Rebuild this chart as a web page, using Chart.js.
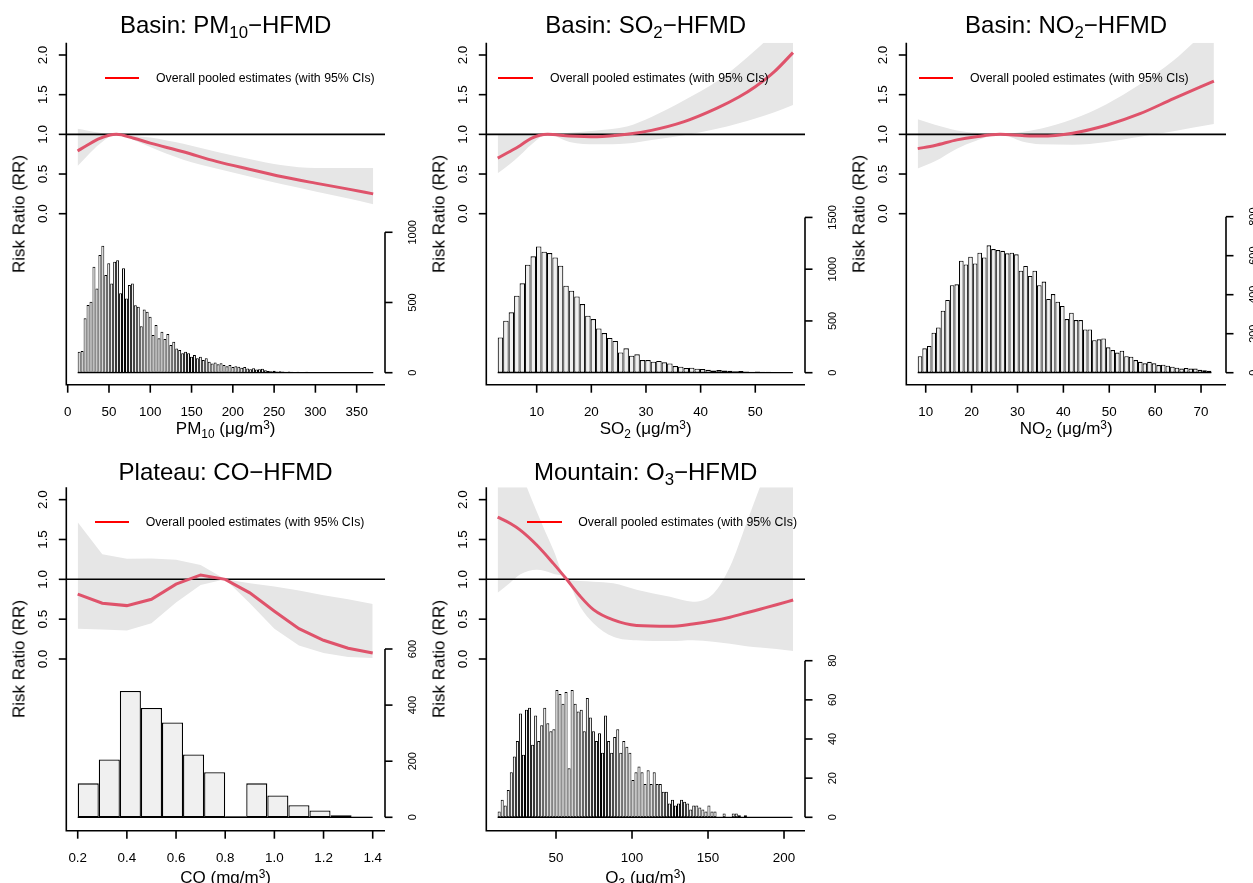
<!DOCTYPE html>
<html>
<head>
<meta charset="utf-8">
<script src="https://cdn.jsdelivr.net/npm/chart.js@4.4.0/dist/chart.umd.min.js"></script>
<style>
  html, body { margin: 0; padding: 0; background: #fff; }
  #page { position: relative; width: 1253px; height: 883px; overflow: hidden;
          font-family: "Liberation Sans", Arial, Helvetica, sans-serif; color: #000; }
  .txt { position: absolute; white-space: nowrap; line-height: 1; transform: translate(-50%, -50%); }
  .ttl { font-size: 24px; }
  .xl  { font-size: 17px; }
  .yl  { font-size: 17px; transform: translate(-50%, -50%) rotate(-90deg); }
  .sb  { font-size: 0.7em; position: relative; top: 0.3em; }
  .sp  { font-size: 0.7em; position: relative; top: -0.45em; }
  .leg { position: absolute; font-size: 12.3px; line-height: 1; white-space: nowrap; transform: translateY(-50%); }
  .legline { position: absolute; height: 2px; background: #ff0000; transform: translateY(-50%); }
</style>
</head>
<body>
<div id="page"></div>
<script>
'use strict';

// ---- RR axis (all panels)
const rrTicks = [0, 0.5, 1, 1.5, 2];

// ---- Basin: PM10
const pm10X  = [12, 23, 39, 59, 80, 100, 140, 180, 220, 260, 300, 340, 370];
const pm10RR = [0.79, 0.86, 0.95, 1.0, 0.95, 0.89, 0.78, 0.66, 0.56, 0.465, 0.385, 0.31, 0.25];
const pm10Lo = [0.60, 0.72, 0.88, 1.0, 0.93, 0.84, 0.68, 0.57, 0.47, 0.37, 0.28, 0.19, 0.12];
const pm10Hi = [1.07, 1.05, 1.02, 1.0, 0.98, 0.96, 0.88, 0.78, 0.69, 0.61, 0.575, 0.575, 0.575];
const pm10HistStart = 12.1, pm10HistWidth = 3.58;
const pm10Counts = [
  150, 154, 387, 482, 506, 755, 600, 838, 904, 696,
  779, 636, 790, 800, 565, 743, 529, 624, 636, 480,
  470, 330, 450, 434, 399, 268, 339, 245, 292, 240,
  275, 197, 220, 173, 161, 138, 150, 138, 114, 126,
  102, 114, 90, 102, 78, 66, 73, 60, 68, 55,
  45, 55, 40, 45, 42, 35, 40, 30, 25, 32,
  22, 25, 28, 18, 12, 10, 14, 9, 10, 8,
  7, 9, 6, 5, 7, 5, 4, 6, 4, 3,
  4, 3, 3, 2, 3, 2, 2, 3, 1, 2,
  2, 1, 1, 2, 1, 1, 1, 1, 0, 1
];
const pm10Ticks = [0, 50, 100, 150, 200, 250, 300, 350];
const pm10CountTicks = [0, 500, 1000];

// ---- Basin: SO2
const so2X  = [2.87, 5, 7, 9, 12, 16, 21, 26.5, 31, 37, 43, 47, 50, 53.5, 56.9];
const so2RR = [0.70, 0.78, 0.86, 0.95, 1.0, 0.98, 0.97, 1.0, 1.05, 1.16, 1.33, 1.47, 1.60, 1.79, 2.03];
const so2Lo = [0.51, 0.62, 0.74, 0.87, 1.0, 0.905, 0.876, 0.885, 0.93, 0.99, 1.07, 1.14, 1.20, 1.28, 1.37];
const so2Hi = [0.99, 0.995, 1.0, 1.0, 1.0, 1.02, 1.05, 1.10, 1.22, 1.43, 1.67, 1.88, 2.06, 2.28, 2.5];
const so2HistStart = 2.87, so2HistWidth = 1.0;
const so2Counts = [
  341, 502, 583, 744, 863, 1043, 1124, 1220, 1169, 1156,
  1114, 1034, 840, 792, 737, 663, 551, 518, 428, 383,
  335, 306, 196, 235, 164, 177, 122, 122, 106, 113,
  100, 90, 64, 58, 45, 48, 38, 35, 28, 22,
  25, 20, 18, 14, 16, 12, 10, 11, 8, 9,
  7, 6, 5, 6
];
const so2Ticks = [10, 20, 30, 40, 50];
const so2CountTicks = [0, 500, 1000, 1500];

// ---- Basin: NO2
const no2X  = [8.26, 12, 16.8, 21, 26.2, 31, 35, 42, 49.4, 56.7, 64, 72.8];
const no2RR = [0.82, 0.86, 0.93, 0.97, 1.0, 0.985, 0.978, 1.015, 1.115, 1.26, 1.45, 1.67];
const no2Lo = [0.57, 0.66, 0.82, 0.92, 1.0, 0.91, 0.875, 0.87, 0.905, 0.97, 1.04, 1.13];
const no2Hi = [1.19, 1.12, 1.05, 1.02, 1.0, 1.03, 1.07, 1.19, 1.38, 1.63, 1.93, 2.4];
const no2HistStart = 8.26, no2HistWidth = 1.0;
const no2Counts = [
  85, 125, 137, 205, 232, 318, 373, 449, 453, 574,
  555, 595, 560, 615, 591, 653, 634, 629, 625, 612,
  615, 607, 523, 547, 496, 523, 449, 467, 378, 403,
  364, 342, 275, 308, 270, 270, 222, 222, 167, 171,
  176, 130, 116, 103, 113, 85, 82, 65, 56, 48,
  56, 48, 39, 41, 36, 31, 26, 21, 24, 21,
  21, 15, 12, 10
];
const no2Ticks = [10, 20, 30, 40, 50, 60, 70];
const no2CountTicks = [0, 200, 400, 600, 800];

// ---- Plateau: CO
const coX  = [0.2, 0.3, 0.4, 0.5, 0.6, 0.7, 0.8, 0.9, 1.0, 1.1, 1.2, 1.3, 1.4];
const coRR = [0.815, 0.70, 0.67, 0.75, 0.94, 1.055, 1.0, 0.83, 0.60, 0.38, 0.235, 0.135, 0.076];
const coLo = [0.38, 0.37, 0.357, 0.45, 0.71, 0.93, 1.0, 0.70, 0.38, 0.17, 0.076, 0.025, 0.013];
const coHi = [1.715, 1.316, 1.257, 1.26, 1.245, 1.18, 1.0, 0.95, 0.91, 0.86, 0.80, 0.75, 0.69];
const coHistStart = 0.2, coHistWidth = 0.0857;
const coCounts = [121, 206, 450, 390, 338, 224, 161, 4, 121, 78, 43, 24, 7, 2];
const coTicks = [0.2, 0.4, 0.6, 0.8, 1.0, 1.2, 1.4];
const coCountTicks = [0, 200, 400, 600];

// ---- Mountain: O3
const o3X  = [11.6, 20, 26.3, 37.3, 48.2, 57, 65.8, 74.6, 87.7, 103, 125, 140, 153.5, 164.5, 175.4, 184.2, 195, 206];
const o3RR = [1.78, 1.70, 1.62, 1.43, 1.20, 1.0, 0.79, 0.62, 0.49, 0.42, 0.41, 0.44, 0.48, 0.525, 0.58, 0.625, 0.68, 0.74];
const o3Lo = [0.83, 0.96, 1.06, 1.12, 1.07, 1.0, 0.66, 0.45, 0.28, 0.235, 0.225, 0.235, 0.215, 0.19, 0.16, 0.145, 0.125, 0.10];
const o3Hi = [3.0, 2.66, 2.37, 1.85, 1.37, 1.0, 0.98, 0.97, 0.95, 0.87, 0.78, 0.72, 0.82, 1.16, 1.71, 2.16, 2.7, 3.2];
const o3HistStart = 11.6, o3HistWidth = 2.0;
const o3Counts = [
  3, 9, 6, 14, 23, 31, 39, 53, 32, 55,
  56, 37, 52, 39, 47, 56, 48, 44, 45, 65,
  63, 58, 64, 25, 65, 58, 54, 55, 44, 61,
  51, 44, 39, 43, 33, 52, 39, 33, 41, 45,
  33, 39, 36, 33, 19, 23, 26, 23, 17, 24,
  17, 23, 17, 17, 13, 13, 7, 9, 6, 7,
  9, 8, 7, 4, 6, 6, 5, 4, 3, 6,
  3, 3, 0, 0, 2, 0, 0, 2, 2, 1,
  0, 1, 0, 0, 0, 0, 0, 0, 0, 0,
  0, 0, 0, 0, 0, 0, 0
];
const o3Ticks = [50, 100, 150, 200];
const o3CountTicks = [0, 20, 40, 60, 80];

const LEGEND_TEXT = 'Overall pooled estimates (with 95% CIs)';
const FONT = '"Liberation Sans", Arial, Helvetica, sans-serif';

// layout: cell = canvas box, area = plot region (page px)
const panels = [
  { x: pm10X, rr: pm10RR, lo: pm10Lo, hi: pm10Hi, hStart: pm10HistStart, hWidth: pm10HistWidth, counts: pm10Counts,
    xTicks: pm10Ticks, xDec: 0, cTicks: pm10CountTicks, smooth: true, barBorder: 1.0,
    cell: [0, 0, 420, 445], area: [66.3, 42.7, 385, 384.7], xRange: [-1.7, 384.3], cRange: [-85.5, 2350],
    title: 'Basin: PM<span class="sb">10</span>−HFMD', xlab: 'PM<span class="sb">10</span> (μg/m<span class="sp">3</span>)',
    leg: [105, 139.3, 156, 77.7] },
  { x: so2X, rr: so2RR, lo: so2Lo, hi: so2Hi, hStart: so2HistStart, hWidth: so2HistWidth, counts: so2Counts,
    xTicks: so2Ticks, xDec: 0, cTicks: so2CountTicks, smooth: true, barBorder: 1.1,
    cell: [420, 0, 420, 445], area: [486.3, 42.7, 805, 384.7], xRange: [0.78, 59.1], cRange: [-116, 3188],
    title: 'Basin: SO<span class="sb">2</span>−HFMD', xlab: 'SO<span class="sb">2</span> (μg/m<span class="sp">3</span>)',
    leg: [498.3, 533.3, 550, 77.7] },
  { x: no2X, rr: no2RR, lo: no2Lo, hi: no2Hi, hStart: no2HistStart, hWidth: no2HistWidth, counts: no2Counts,
    xTicks: no2Ticks, xDec: 0, cTicks: no2CountTicks, smooth: true, barBorder: 1.1,
    cell: [840, 0, 413, 445], area: [906.3, 42.7, 1226, 384.7], xRange: [5.77, 75.44], cRange: [-61.5, 1692],
    title: 'Basin: NO<span class="sb">2</span>−HFMD', xlab: 'NO<span class="sb">2</span> (μg/m<span class="sp">3</span>)',
    leg: [919, 953.3, 970, 77.7] },
  { x: coX, rr: coRR, lo: coLo, hi: coHi, hStart: coHistStart, hWidth: coHistWidth, counts: coCounts,
    xTicks: coTicks, xDec: 1, cTicks: coCountTicks, smooth: false, barBorder: 1.3,
    cell: [0, 445, 420, 438], area: [66.3, 487.3, 385, 830.7], xRange: [0.1536, 1.450], cRange: [-47.8, 1176.5],
    title: 'Plateau: CO−HFMD', xlab: 'CO (mg/m<span class="sp">3</span>)',
    leg: [94.7, 129.3, 145.7, 521.7] },
  { x: o3X, rr: o3RR, lo: o3Lo, hi: o3Hi, hStart: o3HistStart, hWidth: o3HistWidth, counts: o3Counts,
    xTicks: o3Ticks, xDec: 0, cTicks: o3CountTicks, smooth: true, barBorder: 1.0,
    cell: [420, 445, 420, 438], area: [486.3, 487.3, 805, 830.7], xRange: [4.14, 213.8], cRange: [-6.85, 168.6],
    title: 'Mountain: O<span class="sb">3</span>−HFMD', xlab: 'O<span class="sb">3</span> (μg/m<span class="sp">3</span>)',
    leg: [526.7, 561.7, 578.3, 521.7] }
];

const page = document.getElementById('page');

function addText(cls, html, x, y) {
  const d = document.createElement('div');
  d.className = 'txt ' + cls;
  d.innerHTML = html;
  d.style.left = x + 'px';
  d.style.top = y + 'px';
  page.appendChild(d);
}

// R-style axes: L box, rotated y labels, right count axis
function makeAxes(p) {
  return {
    id: 'rAxes',
    afterDraw(chart) {
      const { ctx, chartArea: a } = chart;
      const sx = chart.scales.x, sy = chart.scales.y, s2 = chart.scales.y2;
      const seg = (x1, y1, x2, y2) => { ctx.beginPath(); ctx.moveTo(x1, y1); ctx.lineTo(x2, y2); ctx.stroke(); };
      const rot = (t, x, y) => { ctx.save(); ctx.translate(x, y); ctx.rotate(-Math.PI / 2); ctx.fillText(t, 0, 0); ctx.restore(); };
      ctx.save();
      ctx.strokeStyle = '#000';
      ctx.fillStyle = '#000';
      ctx.lineWidth = 1.6;
      ctx.beginPath();
      ctx.moveTo(a.left, a.top);
      ctx.lineTo(a.left, a.bottom);
      ctx.lineTo(a.right, a.bottom);
      ctx.stroke();

      ctx.textAlign = 'center';
      ctx.textBaseline = 'middle';
      ctx.font = '13.4px ' + FONT;
      rrTicks.forEach(v => {
        const y = sy.getPixelForValue(v);
        seg(a.left - 7.5, y, a.left, y);
        rot(v.toFixed(1), a.left - 23, y);
      });
      p.xTicks.forEach(v => {
        const x = sx.getPixelForValue(v);
        seg(x, a.bottom, x, a.bottom + 8);
        ctx.fillText(v.toFixed(p.xDec), x, a.bottom + 28);
      });

      const c0 = s2.getPixelForValue(p.cTicks[0]);
      const c1 = s2.getPixelForValue(p.cTicks[p.cTicks.length - 1]);
      seg(a.right, c0, a.right, c1);
      ctx.font = '11px ' + FONT;
      p.cTicks.forEach(v => {
        const y = s2.getPixelForValue(v);
        seg(a.right, y, a.right + 7.5, y);
        rot(String(v), a.right + 27.5, y);
      });
      ctx.restore();
    }
  };
}

function buildPanel(p) {
  const [cx, cy, cw, ch] = p.cell;
  const [al, at, ar, ab] = p.area;
  const canvas = document.createElement('canvas');
  canvas.width = cw;
  canvas.height = ch;
  canvas.style.cssText = `position:absolute;left:${cx}px;top:${cy}px;width:${cw}px;height:${ch}px;`;
  page.appendChild(canvas);

  const pts = arr => p.x.map((v, i) => ({ x: v, y: arr[i] }));
  const bars = p.counts.map((c, i) => ({ x: p.hStart + (i + 0.5) * p.hWidth, y: c }));
  const hEnd = p.hStart + p.counts.length * p.hWidth;
  const interp = p.smooth ? 'monotone' : 'default';

  new Chart(canvas, {
    type: 'line',
    data: {
      datasets: [
        { data: pts(p.rr), borderColor: '#DF536B', borderWidth: 3, pointRadius: 0, fill: false,
          cubicInterpolationMode: interp, tension: 0 },
        { data: [{ x: p.xRange[0], y: 1 }, { x: p.xRange[1], y: 1 }], borderColor: '#000', borderWidth: 1.6,
          pointRadius: 0, fill: false },
        { data: [{ x: p.hStart, y: 0 }, { x: hEnd, y: 0 }], yAxisID: 'y2', borderColor: '#000', borderWidth: 1.2,
          pointRadius: 0, fill: false },
        { type: 'bar', data: bars, yAxisID: 'y2', backgroundColor: '#F0F0F0', borderColor: '#000',
          borderWidth: p.barBorder, borderSkipped: false, barPercentage: 1, categoryPercentage: 1, inflateAmount: 0 },
        { data: pts(p.lo), borderWidth: 0, pointRadius: 0, fill: false, cubicInterpolationMode: interp, tension: 0 },
        { data: pts(p.hi), borderWidth: 0, pointRadius: 0, fill: '-1', backgroundColor: '#E6E6E6',
          cubicInterpolationMode: interp, tension: 0 }
      ]
    },
    options: {
      responsive: false,
      animation: false,
      devicePixelRatio: 1,
      events: [],
      layout: { padding: { left: al - cx, top: at - cy, right: cx + cw - ar, bottom: cy + ch - ab } },
      plugins: {
        legend: { display: false },
        tooltip: { enabled: false },
        title: { display: false },
        filler: { drawTime: 'beforeDatasetsDraw' }
      },
      scales: {
        x: { type: 'linear', min: p.xRange[0], max: p.xRange[1], offset: false, display: false,
             afterBuildTicks: s => { s.ticks = p.xTicks.map(v => ({ value: v })); } },
        y: { type: 'linear', min: -2.155, max: 2.155, display: false,
             afterBuildTicks: s => { s.ticks = rrTicks.map(v => ({ value: v })); } },
        y2: { type: 'linear', position: 'right', min: p.cRange[0], max: p.cRange[1], display: false,
              afterBuildTicks: s => { s.ticks = p.cTicks.map(v => ({ value: v })); } }
      }
    },
    plugins: [makeAxes(p)]
  });

  const midX = (al + ar) / 2;
  const rowTop = cy === 0;
  addText('ttl', p.title, midX, rowTop ? 25 : 472);
  addText('xl', p.xlab, midX, rowTop ? 428 : 877);
  addText('yl', 'Risk Ratio (RR)', al - 47.3, (at + ab) / 2);

  const [l1, l2, tx, ly] = p.leg;
  const line = document.createElement('div');
  line.className = 'legline';
  line.style.cssText += `left:${l1}px;top:${ly}px;width:${l2 - l1}px;`;
  page.appendChild(line);
  const lt = document.createElement('div');
  lt.className = 'leg';
  lt.textContent = LEGEND_TEXT;
  lt.style.left = tx + 'px';
  lt.style.top = ly + 'px';
  page.appendChild(lt);
}

panels.forEach(buildPanel);
</script>
</body>
</html>
